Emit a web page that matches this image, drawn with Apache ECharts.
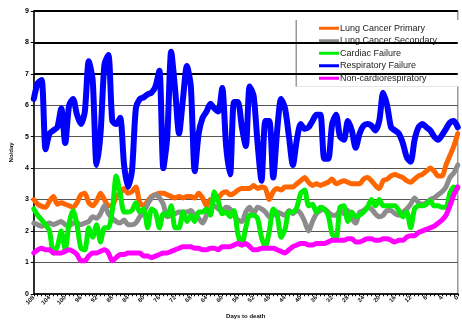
<!DOCTYPE html>
<html>
<head>
<meta charset="utf-8">
<script src="https://cdn.jsdelivr.net/npm/echarts@6/dist/echarts.min.js"></script>
<style>
  html, body { margin: 0; padding: 0; background: #fff; }
  #chart { width: 462px; height: 324px; }
</style>
</head>
<body>
<div id="chart"></div>
<script>
// days before death, one category per point
const days = [
  108, 107, 106, 105, 104, 103, 102, 101, 100, 99, 98, 97, 96, 95, 94, 93, 92, 91, 90, 89,
  88, 87, 86, 85, 84, 83, 82, 81, 80, 79, 78, 77, 76, 75, 74, 73, 72, 71, 70, 69,
  68, 67, 66, 65, 64, 63, 62, 61, 60, 59, 58, 57, 56, 55, 54, 53, 52, 51, 50, 49,
  48, 47, 46, 45, 44, 43, 42, 41, 40, 39, 38, 37, 36, 35, 34, 33, 32, 31, 30, 29,
  28, 27, 26, 25, 24, 23, 22, 21, 20, 19, 18, 17, 16, 15, 14, 13, 12, 11, 10, 9,
  8, 7, 6, 5, 4, 3, 2, 1, 0
];

const lungPrimary = [
  3.0, 2.85, 2.78, 2.75, 2.95, 3.1, 2.85, 2.9, 2.85, 2.8, 2.75, 2.9, 3.15, 3.2, 2.9, 2.8, 2.95, 3.2, 3.0, 2.8,
  2.8, 3.1, 3.2, 3.35, 3.2, 3.25, 3.4, 2.9, 2.8, 2.95, 3.1, 3.15, 3.2, 3.2, 3.15, 3.1, 3.05, 3.1, 3.05, 3.1,
  3.1, 3.05, 3.2, 3.05, 2.8, 3.0, 3.0, 3.05, 3.2, 3.25, 3.15, 3.2, 3.3, 3.35, 3.35, 3.35, 3.45, 3.35, 3.4, 3.35,
  3.0, 3.25, 3.35, 3.3, 3.4, 3.4, 3.4, 3.5, 3.6, 3.7, 3.55, 3.45, 3.5, 3.45, 3.5, 3.55, 3.65, 3.5, 3.55, 3.6,
  3.55, 3.5, 3.5, 3.5, 3.65, 3.7, 3.6, 3.45, 3.35, 3.6, 3.65, 3.75, 3.8, 3.75, 3.7, 3.6, 3.55, 3.65, 3.75, 3.8,
  3.9, 4.0, 3.9, 3.75, 3.75, 4.1, 4.4, 4.7, 5.1
];

const lungSecondary = [
  2.25, 2.2, 2.15, 2.2, 2.25, 2.2, 2.25, 2.3, 2.2, 2.15, 2.25, 2.25, 2.2, 2.25, 2.3, 2.45, 2.4, 2.55, 2.8, 2.55,
  2.4, 2.3, 2.25, 2.35, 2.2, 2.2, 2.25, 2.45, 2.6, 2.85, 3.05, 3.15, 3.05, 2.85, 2.45, 2.5, 2.55, 2.6, 2.6, 2.6,
  2.65, 2.5, 2.4, 2.25, 2.5, 2.7, 2.8, 2.7, 2.65, 2.75, 2.7, 2.5, 2.35, 2.3, 2.6, 2.75, 2.55, 2.75, 2.7, 2.6,
  2.45, 2.5, 2.6, 2.55, 2.5, 2.65, 2.55, 2.65, 2.55, 2.3, 2.0, 2.3, 2.55, 2.65, 2.7, 2.6, 2.5, 2.5, 2.65, 2.55,
  2.65, 2.4, 2.25, 2.6, 2.65, 2.75, 2.7, 2.55, 2.45, 2.5, 2.65, 2.65, 2.55, 2.5, 2.6, 2.7, 2.85, 3.05, 2.9, 2.85,
  2.9, 3.0, 3.05, 3.15, 3.25, 3.4, 3.7, 3.85, 4.1
];

const cardiacFailure = [
  2.7, 2.5, 2.35, 2.2, 2.0, 1.3, 1.5, 2.0, 1.4, 2.25, 2.65, 2.2, 1.45, 1.4, 2.1, 1.8, 2.2, 1.65, 2.1, 2.1,
  2.65, 3.75, 3.2, 2.6, 2.6, 2.65, 2.9, 2.6, 2.7, 2.1, 2.7, 2.6, 2.1, 2.55, 2.5, 2.8, 2.1, 2.1, 2.6, 2.3,
  2.5, 2.3, 2.6, 2.6, 2.7, 2.5, 3.25, 2.95, 2.55, 2.6, 2.45, 2.65, 1.9, 1.55, 2.1, 2.5, 2.5, 2.4, 1.8, 1.5,
  2.0, 2.7, 2.5, 1.8, 2.05, 2.6, 2.6, 2.75, 3.2, 3.3, 2.8, 2.85, 2.6, 2.75, 2.7, 2.5, 1.9, 1.75, 2.75, 2.8,
  2.3, 2.6, 2.45, 2.5, 2.6, 2.75, 3.0, 2.8, 3.0, 2.8, 2.8, 2.8, 2.8, 2.65, 2.45, 2.6, 2.1, 2.7, 2.8, 2.8,
  2.85, 2.95, 2.8, 2.8, 2.75, 2.75, 3.2, 3.4, 3.35
];

const respiratoryFailure = [
  6.2, 6.7, 6.8, 4.6, 5.1, 5.2, 5.3, 5.9, 4.8, 6.0, 6.2, 5.7, 5.4, 5.8, 7.4, 6.8, 4.1, 5.1, 7.3, 7.6,
  5.5, 5.4, 5.6, 4.1, 3.4, 3.9, 5.9, 6.2, 6.25, 6.35, 6.4, 6.6, 7.1, 4.0, 5.0, 7.7, 6.5, 5.1, 6.2, 7.25,
  6.6, 3.9, 5.1, 5.6, 5.8, 6.05, 5.9, 5.8, 6.55, 4.7, 3.8, 6.1, 6.1, 5.3, 4.7, 6.6, 6.3, 4.8, 3.6, 5.5,
  5.5, 3.7, 5.2, 6.2, 5.9, 5.0, 4.1, 4.9, 5.4, 5.25, 5.3, 5.5, 5.7, 5.7, 4.3, 4.3, 5.4, 5.7, 5.0, 4.9,
  5.5, 5.2, 4.65, 5.1, 5.35, 5.4, 5.35, 5.2, 5.5, 6.4, 6.0, 5.3, 5.2, 5.1, 4.8, 4.35, 4.2, 4.9, 5.3, 5.4,
  5.3, 5.2, 5.0, 4.9, 5.05, 5.25, 5.45, 5.5, 5.3
];

const nonCardioResp = [
  1.3, 1.4, 1.45, 1.4, 1.4, 1.3, 1.3, 1.3, 1.35, 1.4, 1.35, 1.25, 1.05, 1.05, 1.2, 1.3, 1.3, 1.35, 1.4, 1.3,
  1.05, 1.15, 1.25, 1.25, 1.3, 1.3, 1.3, 1.3, 1.2, 1.2, 1.15, 1.2, 1.25, 1.3, 1.3, 1.35, 1.4, 1.45, 1.5, 1.5,
  1.5, 1.45, 1.45, 1.4, 1.4, 1.45, 1.45, 1.4, 1.5, 1.5, 1.5, 1.55, 1.6, 1.55, 1.6, 1.5, 1.4, 1.4, 1.45, 1.45,
  1.45, 1.45, 1.4, 1.35, 1.3, 1.4, 1.5, 1.55, 1.6, 1.6, 1.55, 1.55, 1.6, 1.6, 1.6, 1.65, 1.7, 1.7, 1.7, 1.7,
  1.75, 1.75, 1.65, 1.65, 1.7, 1.75, 1.75, 1.7, 1.7, 1.75, 1.75, 1.7, 1.65, 1.7, 1.7, 1.8, 1.85, 1.85, 1.95, 2.0,
  2.05, 2.1, 2.15, 2.25, 2.35, 2.5, 2.8, 3.15, 3.4
];

const heavyGridValues = [7, 8, 9];

const seriesNames = [
  "Lung Cancer Primary",
  "Lung Cancer Secondary",
  "Cardiac Failure",
  "Respiratory Failure",
  "Non-cardiorespiratory",
];
const seriesColors = ["#FF6600", "#8C8C8C", "#00EE00", "#0000FF", "#FF00FF"];
const seriesData = [lungPrimary, lungSecondary, cardiacFailure, respiratoryFailure, nonCardioResp];

const chart = echarts.init(document.getElementById("chart"), null, { renderer: "canvas" });

chart.setOption({
  animation: false,
  backgroundColor: "#fff",
  textStyle: { fontFamily: "Liberation Sans, Arial, sans-serif" },
  grid: {
    left: 26,
    right: 3,
    top: 11,
    bottom: 22,
    show: true,
    borderColor: "#999",
    borderWidth: 1.5,
  },
  legend: {
    data: seriesNames,
    orient: "vertical",
    left: 297,
    top: 20,
    icon: "rect",
    itemWidth: 20,
    itemHeight: 3,
    itemGap: 2,
    padding: [3, 24, 3, 22],
    backgroundColor: "#fff",
    shadowColor: "#999",
    shadowOffsetX: -1.5,
    shadowBlur: 0,
    textStyle: { fontSize: 9, color: "#222", lineHeight: 10.5, padding: [0, 0, 0, -4] },
  },
  xAxis: {
    type: "category",
    boundaryGap: false,
    data: days,
    name: "Days to death",
    nameLocation: "middle",
    nameGap: 16,
    nameTextStyle: { fontSize: 6, fontWeight: "bold", color: "#111" },
    axisLine: { lineStyle: { color: "#000", width: 1.5 } },
    axisTick: { interval: 0, length: 2.5, lineStyle: { color: "#000" } },
    axisLabel: {
      interval: 3,
      rotate: 45,
      fontSize: 6,
      fontWeight: "bold",
      color: "#111",
      margin: 3,
    },
    splitLine: { show: false },
  },
  yAxis: {
    type: "value",
    min: 0,
    max: 9,
    interval: 1,
    name: "No/day",
    nameLocation: "middle",
    nameGap: 12,
    nameRotate: 90,
    nameTextStyle: { fontSize: 6, fontWeight: "bold", color: "#111" },
    axisLine: { show: true, lineStyle: { color: "#000", width: 1.5 } },
    axisTick: { show: true, length: 3, lineStyle: { color: "#000" } },
    axisLabel: { fontSize: 7, fontWeight: "bold", color: "#000", margin: 5 },
    splitLine: { lineStyle: { color: "#555", width: 1.2 } },
  },
  series: [
    {
      type: "line",
      data: [],
      silent: true,
      z: 1,
      markLine: {
        silent: true,
        symbol: "none",
        label: { show: false },
        lineStyle: { color: "#000", width: 2.2, type: "solid" },
        data: heavyGridValues.map((v) => ({ yAxis: v })),
      },
    },
  ].concat(
    seriesNames.map((name, i) => ({
      name,
      type: "line",
      data: seriesData[i],
      z: 2 + i,
      symbol: "none",
      smooth: 0.25,
      color: seriesColors[i],
      lineStyle: {
        width: name === "Respiratory Failure" ? 6 : 5,
        color: seriesColors[i],
        join: "round",
        cap: "round",
      },
    }))
  ),
});
</script>
</body>
</html>
